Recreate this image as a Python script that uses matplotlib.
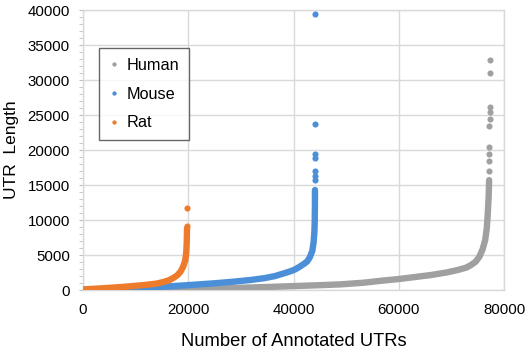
import matplotlib
matplotlib.use("Agg")
import matplotlib.pyplot as plt
from matplotlib.ticker import MultipleLocator

plt.rcParams['font.family'] = ['Liberation Sans', 'DejaVu Sans']

# sorted UTR lengths (rank -> length)
human_rank = [0, 5000, 10000, 15000, 20000, 25000, 30000, 35000, 40000, 45000, 49000,
              53400, 57000, 60000, 63000, 66100, 69000, 71200, 72800, 73700, 74600,
              75300, 75900, 76400, 76700, 76900, 77050, 77150]
human_len = [0, 20, 50, 100, 150, 210, 320, 430, 560, 690, 810,
             1050, 1350, 1570, 1850, 2140, 2500, 2860, 3200, 3570, 4050,
             4760, 5800, 7140, 8800, 11000, 13200, 15700]
human_out_rank = [77180, 77190, 77200, 77200, 77210, 77220, 77230, 77240, 77250]
human_out_len = [17000, 18500, 19500, 20400, 23400, 24500, 25500, 26200, 30950]
human_top_rank = [77260]
human_top_len = [32860]

mouse_rank = [0, 2600, 6000, 9000, 12000, 15300, 20000, 24800, 28600, 31800, 34500,
              36500, 38150, 39500, 40300, 41200, 42000, 42600, 43100, 43560, 43800,
              43950, 44020, 44050, 44060]
mouse_len = [0, 50, 140, 240, 350, 470, 700, 950, 1190, 1430, 1700,
             2000, 2380, 2700, 2950, 3350, 3750, 4100, 4700, 5600, 6800,
             8300, 10000, 12000, 14290]
mouse_out_rank = [44060, 44060, 44060, 44060, 44060, 44060, 44070]
mouse_out_len = [15700, 16300, 17000, 18900, 19400, 23700, 39430]

rat_rank = [0, 2000, 4000, 5800, 8000, 10000, 12100, 14000, 15300, 16400, 17200,
            17900, 18500, 19000, 19400, 19600, 19700, 19750]
rat_len = [80, 170, 260, 350, 470, 600, 750, 920, 1150, 1420, 1750,
           2100, 2600, 3300, 4200, 5300, 6800, 8800]
rat_out_rank = [19760, 19780]
rat_out_len = [9200, 11700]

c_human = '#A0A0A0'
c_mouse = '#4A8FD8'
c_rat = '#EE7A2C'

fig = plt.figure(figsize=(5.29, 3.5), dpi=100)
ax = fig.add_axes([0.157, 0.1714, 0.796, 0.80])

lw = 4.6
ms = 4.4
ax.plot(human_rank, human_len, '-', color=c_human, lw=lw, solid_capstyle='round', solid_joinstyle='round', zorder=3)
ax.plot(human_out_rank + human_top_rank, human_out_len + human_top_len, 'o', color=c_human, ms=ms, mew=0, zorder=3, label='Human')
ax.plot(mouse_rank, mouse_len, '-', color=c_mouse, lw=lw, solid_capstyle='round', solid_joinstyle='round', zorder=4)
ax.plot(mouse_out_rank, mouse_out_len, 'o', color=c_mouse, ms=ms, mew=0, zorder=4, label='Mouse')
ax.plot(rat_rank, rat_len, '-', color=c_rat, lw=lw, solid_capstyle='round', solid_joinstyle='round', zorder=5)
ax.plot(rat_out_rank, rat_out_len, 'o', color=c_rat, ms=ms, mew=0, zorder=5, label='Rat')

ax.set_xlim(0, 80000)
ax.set_ylim(0, 40000)
ax.xaxis.set_major_locator(MultipleLocator(20000))
ax.yaxis.set_major_locator(MultipleLocator(5000))
ax.yaxis.set_minor_locator(MultipleLocator(1000))
ax.grid(True, which='major', color='#D9D9D9', lw=1.0)
ax.set_axisbelow(True)
for s in ax.spines.values():
    s.set_color('#D9D9D9')
    s.set_linewidth(1.0)

ax.tick_params(axis='x', length=0, pad=9, labelsize=10.8)
ax.tick_params(axis='y', which='both', length=3, color='#BFBFBF', pad=6.5, labelsize=10.8)

ax.set_xlabel('Number of Annotated UTRs', fontsize=13.2, labelpad=12)
ax.set_ylabel('UTR  Length', fontsize=12.5, labelpad=6)

leg = ax.legend(loc='upper left', bbox_to_anchor=(0.038, 0.864), borderaxespad=0,
                fontsize=11.7, frameon=True, fancybox=False, edgecolor='#404040',
                labelspacing=0.85, handlelength=0.6, handletextpad=0.5,
                borderpad=0.6, markerscale=0.7)
leg.get_frame().set_linewidth(1.0)

fig.savefig('out.png', dpi=100)
